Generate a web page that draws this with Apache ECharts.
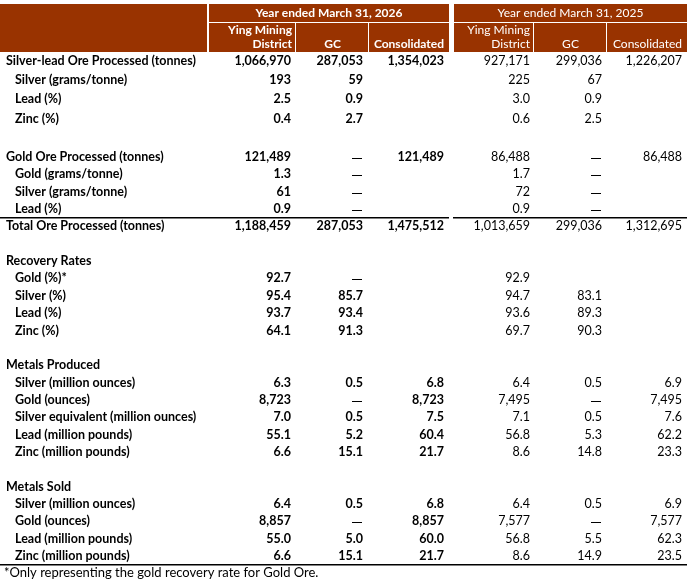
<!DOCTYPE html>
<html>
<head>
<meta charset="utf-8">
<script src="https://cdn.jsdelivr.net/npm/echarts@6/dist/echarts.min.js"></script>
<style>
    html, body { margin: 0; padding: 0; background: #fff; }
    #main { width: 695px; height: 579px; }
</style>
</head>
<body>
<div id="main"></div>
<script>
/************** 表格数据 ***************/
var rowLabels = [
    'Silver-lead Ore Processed (tonnes)', 'Silver (grams/tonne)', 'Lead (%)', 'Zinc (%)', '',
    'Gold Ore Processed (tonnes)', 'Gold (grams/tonne)', 'Silver (grams/tonne)', 'Lead (%)',
    'Total Ore Processed (tonnes)', '',
    'Recovery Rates', 'Gold (%)*', 'Silver (%)', 'Lead (%)', 'Zinc (%)', '',
    'Metals Produced', 'Silver (million ounces)', 'Gold (ounces)', 'Silver equivalent (million ounces)',
    'Lead (million pounds)', 'Zinc (million pounds)', '',
    'Metals Sold', 'Silver (million ounces)', 'Gold (ounces)', 'Lead (million pounds)', 'Zinc (million pounds)'
];
var headingRows = [0, 5, 9, 11, 17, 24];

var ying2026 = ['1,066,970', '193', '2.5', '0.4', '', '121,489', '1.3', '61', '0.9', '1,188,459', '',
    '', '92.7', '95.4', '93.7', '64.1', '', '', '6.3', '8,723', '7.0', '55.1', '6.6', '',
    '', '6.4', '8,857', '55.0', '6.6'];
var gc2026 = ['287,053', '59', '0.9', '2.7', '', '—', '—', '—', '—', '287,053', '',
    '', '—', '85.7', '93.4', '91.3', '', '', '0.5', '—', '0.5', '5.2', '15.1', '',
    '', '0.5', '—', '5.0', '15.1'];
var cons2026 = ['1,354,023', '', '', '', '', '121,489', '', '', '', '1,475,512', '',
    '', '', '', '', '', '', '', '6.8', '8,723', '7.5', '60.4', '21.7', '',
    '', '6.8', '8,857', '60.0', '21.7'];
var ying2025 = ['927,171', '225', '3.0', '0.6', '', '86,488', '1.7', '72', '0.9', '1,013,659', '',
    '', '92.9', '94.7', '93.6', '69.7', '', '', '6.4', '7,495', '7.1', '56.8', '8.6', '',
    '', '6.4', '7,577', '56.8', '8.6'];
var gc2025 = ['299,036', '67', '0.9', '2.5', '', '—', '—', '—', '—', '299,036', '',
    '', '', '83.1', '89.3', '90.3', '', '', '0.5', '—', '0.5', '5.3', '14.8', '',
    '', '0.5', '—', '5.5', '14.9'];
var cons2025 = ['1,226,207', '', '', '', '', '86,488', '', '', '', '1,312,695', '',
    '', '', '', '', '', '', '', '6.9', '7,495', '7.6', '62.2', '23.3', '',
    '', '6.9', '7,577', '62.3', '23.5'];

var yearTitles = ['Year ended March 31, 2026', 'Year ended March 31, 2025'];
var colTitles = ['Ying Mining\nDistrict', 'GC', 'Consolidated'];
var footnote = '*Only representing the gold recovery rate for Gold Ore.';

/************** 布局参数 ***************/
var BROWN = '#993300';
var FONT = 'Lato, "Open Sans", sans-serif';
var columns = [
    { data: ying2026, x: 291, bold: true },
    { data: gc2026, x: 363, bold: true },
    { data: cons2026, x: 444, bold: true },
    { data: ying2025, x: 530, bold: false },
    { data: gc2025, x: 602, bold: false },
    { data: cons2025, x: 682, bold: false }
];
// 表头分组
var groups = [
    { left: 209, right: 449, seps: [295, 368], bold: true },
    { left: 454, right: 687, seps: [533, 606], bold: false }
];
// 行高: 前几行较高
var FIRST_ROW_Y = 61, TALL_ROWS = 5, TALL_H = 19.2, ROW_H = 17.35;

function rowY(i) {
    if (i <= TALL_ROWS) return FIRST_ROW_Y + i * TALL_H;
    return FIRST_ROW_Y + TALL_ROWS * TALL_H + (i - TALL_ROWS) * ROW_H;
}

initTable();

function initTable() {
    var myChart = echarts.init(document.getElementById('main'));

    var series = [];

    // 行标题
    var labelData = [];
    rowLabels.forEach(function (t, i) {
        if (!t) return;
        var head = headingRows.indexOf(i) >= 0;
        labelData.push([head ? 6 : 15, rowY(i), t]);
    });
    series.push(textSeries(labelData, 'left', true));

    // 数值列
    columns.forEach(function (c) {
        var d = [];
        c.data.forEach(function (v, i) {
            if (v !== '') d.push([c.x, rowY(i), v]);
        });
        series.push(textSeries(d, 'right', c.bold));
    });

    // 横线
    var midLine = (rowY(8) + rowY(9)) / 2;
    var endLine = rowY(28) + ROW_H / 2;
    series.push(ruleSeries([[0, midLine], [449, midLine]]));
    series.push(ruleSeries([[453, midLine], [687, midLine]]));
    series.push(ruleSeries([[0, endLine], [687, endLine]]));

    // 表头
    var graphic = [
        { type: 'rect', shape: { x: 0, y: 4, width: 207, height: 48 }, style: { fill: BROWN } }
    ];
    groups.forEach(function (g, gi) {
        var w = g.right - g.left;
        graphic.push({ type: 'rect', shape: { x: g.left, y: 4, width: w, height: 48 }, style: { fill: BROWN } });
        graphic.push({ type: 'rect', shape: { x: g.left, y: 22, width: w, height: 1 }, style: { fill: '#fff' } });
        g.seps.forEach(function (sx) {
            graphic.push({ type: 'rect', shape: { x: sx, y: 22, width: 1, height: 30 }, style: { fill: '#fff' } });
        });
        var fw = g.bold ? 'bold' : 'normal';
        graphic.push({
            type: 'text', x: (g.left + g.right) / 2, y: 13,
            style: { text: yearTitles[gi], fill: '#fff', font: fw + ' 12px ' + FONT, align: 'center', verticalAlign: 'middle' }
        });
        var cx = [g.seps[0] - 3, (g.seps[0] + g.seps[1]) / 2 + 1, g.right - 5];
        graphic.push({
            type: 'text', x: cx[0], y: 37,
            style: { text: colTitles[0], fill: '#fff', font: fw + ' 12px ' + FONT, align: 'right', verticalAlign: 'middle', lineHeight: 14 }
        });
        graphic.push({
            type: 'text', x: cx[1], y: 44,
            style: { text: colTitles[1], fill: '#fff', font: fw + ' 12px ' + FONT, align: 'center', verticalAlign: 'middle' }
        });
        graphic.push({
            type: 'text', x: cx[2], y: 44,
            style: { text: colTitles[2], fill: '#fff', font: fw + ' 12px ' + FONT, align: 'right', verticalAlign: 'middle' }
        });
    });
    graphic.push({
        type: 'text', x: 4, y: 573,
        style: { text: footnote, fill: '#000', font: '13px ' + FONT, verticalAlign: 'middle' }
    });

    var option = {
        animation: false,
        grid: { left: 0, right: 0, top: 0, bottom: 0 },
        xAxis: { type: 'value', min: 0, max: 695, show: false },
        yAxis: { type: 'value', min: 0, max: 579, inverse: true, show: false },
        graphic: graphic,
        series: series
    };

    myChart.setOption(option);
}

// 用自定义系列画单元格文字，位置经过坐标轴换算
function textSeries(data, align, bold) {
    var font = (bold ? 'bold ' : '') + '12.5px ' + FONT;
    return {
        type: 'custom',
        silent: true,
        data: data,
        renderItem: function (params, api) {
            var pt = api.coord([api.value(0), api.value(1)]);
            var txt = data[params.dataIndex][2];
            var x = Math.round(pt[0]), y = Math.round(pt[1]);
            if (txt === '—') {
                // 破折号画成一小段横线
                return {
                    type: 'line',
                    shape: { x1: x - 11, y1: y + 1.5, x2: x - 1, y2: y + 1.5 },
                    style: { stroke: '#000', lineWidth: 1 }
                };
            }
            return {
                type: 'text',
                x: x,
                y: y,
                style: {
                    text: txt,
                    fill: '#000',
                    font: font,
                    align: align,
                    verticalAlign: 'middle'
                }
            };
        }
    };
}

function ruleSeries(data) {
    return {
        type: 'line',
        symbol: 'none',
        silent: true,
        data: data,
        lineStyle: { color: '#000', width: 1.3 }
    };
}
</script>
</body>
</html>
